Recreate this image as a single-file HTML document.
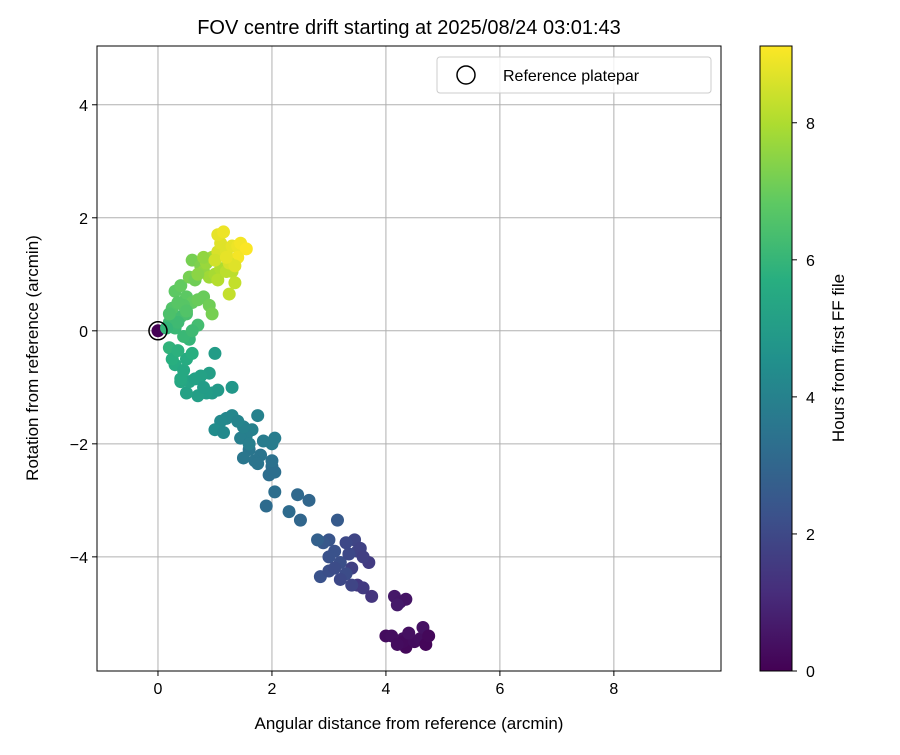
<!DOCTYPE html>
<html><head><meta charset="utf-8"><style>
body{margin:0;background:#fff;font-family:"Liberation Sans","DejaVu Sans",sans-serif}
svg text{font-family:"Liberation Sans","DejaVu Sans",sans-serif;fill:#000}
</style></head><body>
<svg id="c" width="900" height="750" viewBox="0 0 900 750" xmlns="http://www.w3.org/2000/svg">
<defs><linearGradient id="vir" x1="0" y1="1" x2="0" y2="0">
<stop offset="0" stop-color="#440154"/><stop offset="0.125" stop-color="#472d7b"/><stop offset="0.25" stop-color="#3b528b"/><stop offset="0.375" stop-color="#2c728e"/><stop offset="0.5" stop-color="#21918c"/><stop offset="0.625" stop-color="#28ae80"/><stop offset="0.75" stop-color="#5ec962"/><stop offset="0.875" stop-color="#addc30"/><stop offset="1" stop-color="#fde725"/></linearGradient></defs>
</svg>
<script>
const xs=[0,
4.15,4.25,4.35,4.2,4.0,4.1,4.3,4.35,4.3,4.5,4.6,4.7,4.65,4.75,4.2,4.4,
3.45,3.5,3.55,3.3,3.7,3.6,3.4,3.5,3.6,3.75,3.3,3.2,3.1,3.0,2.9,2.85,3.0,3.2,3.4,3.0,3.1,3.35,3.15,
2.8,2.65,2.45,2.3,2.5,2.05,1.9,2.0,1.95,2.05,2.0,1.8,1.7,1.6,1.5,1.75,
2.05,2.0,1.75,1.65,1.55,1.45,1.5,1.3,1.2,1.1,1.0,1.15,1.4,1.6,1.85,
1.3,0.95,1.05,0.85,0.7,0.5,0.9,0.75,1.0,0.55,0.65,0.8,0.4,
0.3,0.2,0.25,0.45,0.5,0.35,0.4,0.6,0.55,0.7,0.3,0.2,0.4,0.5,0.35,0.15,0.45,0.6,
0.25,0.3,0.4,0.5,0.6,0.7,0.8,0.9,0.95,0.45,0.35,0.55,0.65,0.6,0.75,0.5,0.2,
0.8,0.85,0.9,1.0,1.1,0.95,0.8,1.05,1.2,1.25,1.3,1.35,1.25,0.7,
1.05,1.1,1.05,1.15,1.2,1.3,1.4,1.45,1.55,1.4,1.25,1.35,1.0,1.2];
const ys=[0,
-4.7,-4.8,-4.75,-4.85,-5.4,-5.4,-5.45,-5.6,-5.5,-5.5,-5.45,-5.55,-5.25,-5.4,-5.55,-5.35,
-3.7,-3.9,-3.85,-3.75,-4.1,-4.0,-4.2,-4.5,-4.55,-4.7,-4.3,-4.1,-3.9,-3.7,-3.75,-4.35,-4.25,-4.4,-4.5,-4.0,-4.2,-3.95,-3.35,
-3.7,-3.0,-2.9,-3.2,-3.35,-2.85,-3.1,-2.4,-2.55,-2.5,-2.3,-2.2,-2.3,-2.1,-2.25,-2.35,
-1.9,-2.0,-1.5,-1.75,-1.85,-1.9,-1.7,-1.5,-1.55,-1.6,-1.75,-1.8,-1.6,-2.0,-1.95,
-1.0,-1.1,-1.05,-1.1,-1.15,-1.1,-0.75,-0.8,-0.4,-0.9,-0.85,-1.0,-0.9,
-0.6,-0.3,-0.5,-0.7,-0.5,-0.35,-0.85,-0.4,-0.15,0.1,0.05,0.15,0.25,0.3,0.15,0.05,-0.1,0.0,
0.4,0.7,0.8,0.6,0.5,0.55,0.6,0.45,0.3,0.45,0.5,0.95,0.9,1.25,1.15,0.35,0.3,
1.05,1.2,0.95,1.0,1.1,1.3,1.3,0.9,1.05,1.25,1.05,0.85,0.65,1.0,
1.4,1.55,1.7,1.75,1.4,1.5,1.5,1.55,1.45,1.3,1.2,1.15,1.25,1.3];
const hs=[0,
0.6,0.55,0.5,0.65,0.3,0.35,0.4,0.2,0.25,0.3,0.35,0.15,0.45,0.2,0.3,0.4,
1.9,1.85,1.8,2.0,1.6,1.7,1.75,1.5,1.55,1.4,2.1,2.2,2.3,2.4,2.5,2.3,2.2,2.0,1.9,2.3,2.1,2.0,2.6,
2.8,3.0,3.1,3.2,3.0,3.3,3.2,3.3,3.25,3.3,3.4,3.5,3.5,3.55,3.6,3.5,
3.8,3.8,4.0,4.0,3.9,3.9,4.0,4.2,4.2,4.3,4.4,4.3,4.1,3.9,3.8,
4.8,4.9,4.9,5.0,5.1,5.2,5.1,5.2,5.0,5.3,5.2,5.0,5.4,
5.6,5.9,5.7,5.5,5.6,5.8,5.5,5.7,6.0,6.3,6.1,6.2,6.3,6.4,6.2,6.0,6.1,6.2,
6.6,6.8,6.9,6.8,6.9,7.0,7.0,7.1,7.2,6.7,6.7,7.2,7.1,7.2,7.3,6.6,6.5,
7.6,7.7,7.8,7.9,8.0,7.8,7.6,8.1,8.2,8.3,8.2,8.3,8.3,7.5,
8.6,8.7,8.8,8.9,8.7,8.8,8.9,9.0,9.1,9.0,8.6,8.7,8.5,8.8];
const xTicks=[0,2,4,6,8], yTicks=[-4,-2,0,2,4], cTicks=[0,2,4,6,8];
const X0=97,X1=721,Y0=46,Y1=671,xmin=-1.07,xmax=9.88,ymin=-6.02,ymax=5.04,hmax=9.12;
const sx=v=>X0+(v-xmin)/(xmax-xmin)*(X1-X0);
const sy=v=>Y1-(v-ymin)/(ymax-ymin)*(Y1-Y0);
const sc=v=>Y1-v/hmax*(Y1-Y0);
const vir=["#440154","#472d7b","#3b528b","#2c728e","#21918c","#28ae80","#5ec962","#addc30","#fde725"];
function col(h){let t=Math.max(0,Math.min(1,h/hmax))*8,i=Math.min(7,Math.floor(t)),f=t-i;
const a=vir[i],b=vir[i+1],p=k=>parseInt(a.substr(k,2),16)*(1-f)+parseInt(b.substr(k,2),16)*f;
return `rgb(${p(1)|0},${p(3)|0},${p(5)|0})`;}
const svg=document.getElementById('c'),NS="http://www.w3.org/2000/svg";
function el(t,a,txt){const e=document.createElementNS(NS,t);for(const k in a)e.setAttribute(k,a[k]);if(txt!==undefined)e.textContent=txt;svg.appendChild(e);return e;}
const fmt=v=>v<0?"\u2212"+(-v):""+v;
// grid
xTicks.forEach(v=>{const l=el('line',{x1:sx(v),x2:sx(v),y1:Y0,y2:Y1,stroke:'#b0b0b0','stroke-width':1});

});
yTicks.forEach(v=>{const l=el('line',{x1:X0,x2:X1,y1:sy(v),y2:sy(v),stroke:'#b0b0b0','stroke-width':1});

});
// points
for(let i=0;i<xs.length;i++){const c=el('circle',{cx:sx(xs[i]),cy:sy(ys[i]),r:6.5,fill:col(hs[i])});

}
const ref=el('circle',{cx:sx(0),cy:sy(0),r:9,fill:'none',stroke:'#000','stroke-width':1.5});


const fr=el('rect',{x:X0,y:Y0,width:X1-X0,height:Y1-Y0,fill:'none',stroke:'#000','stroke-width':1});


xTicks.forEach(v=>{el('line',{x1:sx(v),x2:sx(v),y1:Y1,y2:Y1+5,stroke:'#000'});
const t=el('text',{x:sx(v),y:Y1+23,'text-anchor':'middle','font-size':16},fmt(v));

});
yTicks.forEach(v=>{el('line',{x1:X0-5,x2:X0,y1:sy(v),y2:sy(v),stroke:'#000'});
const t=el('text',{x:X0-9,y:sy(v)+6,'text-anchor':'end','font-size':16},fmt(v));

});
const ti=el('text',{x:409,y:34,'text-anchor':'middle','font-size':20},'FOV centre drift starting at 2025/08/24 03:01:43');


const xt=el('text',{x:409,y:729,'text-anchor':'middle','font-size':17},'Angular distance from reference (arcmin)');


const yt=el('text',{x:38,y:358,'text-anchor':'middle','font-size':17,transform:'rotate(-90 38 358)'},'Rotation from reference (arcmin)');


// legend
const lg=el('rect',{x:437,y:57,width:274,height:36,rx:3,fill:'#fff','fill-opacity':0.8,stroke:'#ccc'});


el('circle',{cx:466,cy:75,r:9,fill:'none',stroke:'#000','stroke-width':1.5});
const lt=el('text',{x:503,y:81,'font-size':16},'Reference platepar');


// colorbar
const cb=el('rect',{x:760,y:Y0,width:32,height:Y1-Y0,fill:'url(#vir)',stroke:'#000','stroke-width':1});


cTicks.forEach(v=>{el('line',{x1:792,x2:797,y1:sc(v),y2:sc(v),stroke:'#000'});
const t=el('text',{x:806,y:sc(v)+6,'font-size':16},v);

});
const ct=el('text',{x:844,y:358,'text-anchor':'middle','font-size':17,transform:'rotate(-90 844 358)'},'Hours from first FF file');


</script>
</body></html>
